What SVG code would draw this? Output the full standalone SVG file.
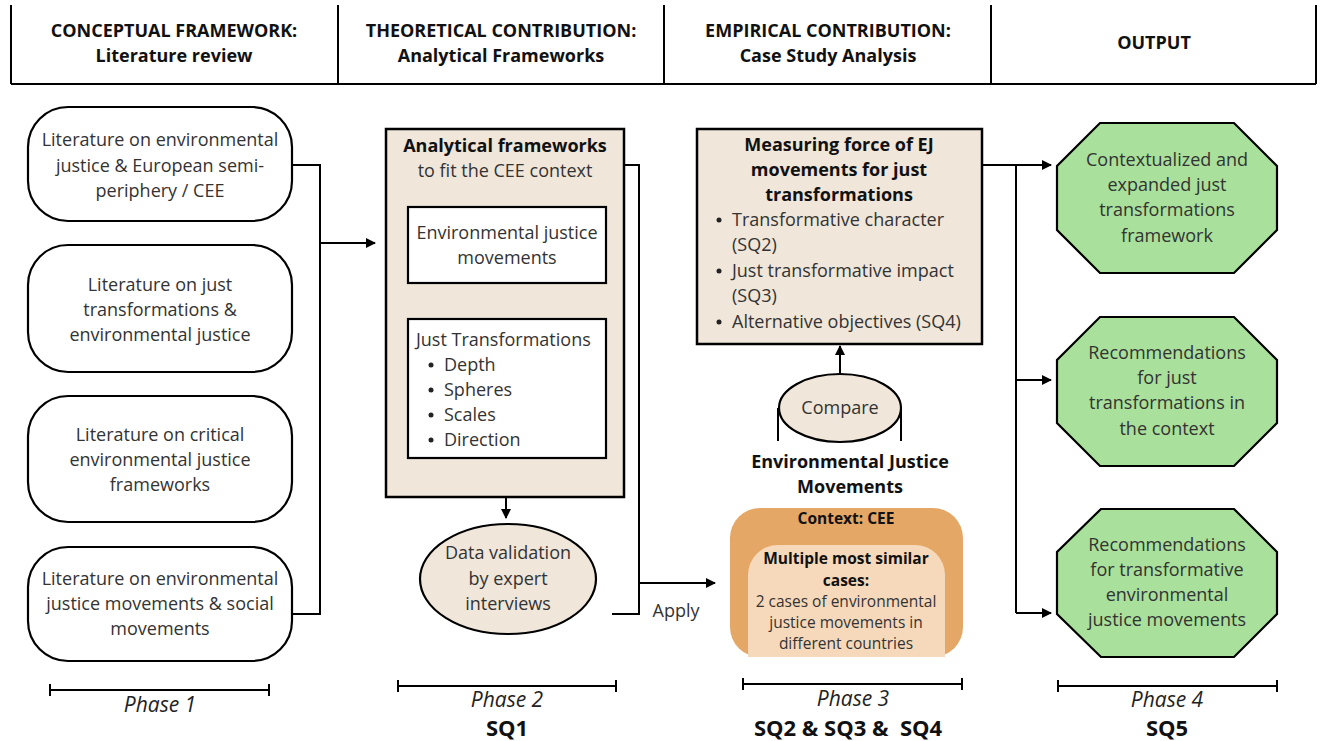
<svg xmlns="http://www.w3.org/2000/svg" width="1325" height="741" viewBox="0 0 1325 741">
<defs>
<marker id="ah" viewBox="0 0 10 10" refX="9" refY="5" markerWidth="5" markerHeight="5" orient="auto"><path d="M0,0 L10,5 L0,10 z" fill="#000"/></marker>
<style>
text{font-family:"Open Sans","Noto Sans",sans-serif;font-size:18px;fill:#333;text-anchor:middle}
.b{font-weight:bold;fill:#111}
.h{font-weight:bold;fill:#111;font-size:18px}
.i{font-style:italic;font-size:21px;fill:#222}
.sq{font-weight:bold;font-size:22px;fill:#111;white-space:pre}
.l{text-anchor:start}
.s{font-size:15.5px}
.ln{stroke:#000;stroke-width:2;fill:none}
.lit{fill:#fff;stroke:#000;stroke-width:2.2}
.bei{fill:#f0e6da;stroke:#000;stroke-width:2.5}
.oct{fill:#a9e09b;stroke:#000;stroke-width:2.2}
</style>
</defs>
<rect width="1325" height="741" fill="#fff"/>
<g id="header">
<path class="ln" d="M11,5V84M338,5V84M664,5V84M991,5V84M1316,5V84M11,84H1316"/>
<text class="h" x="174" y="37">CONCEPTUAL FRAMEWORK:</text>
<text class="h" x="174" y="62">Literature review</text>
<text class="h" x="501" y="37">THEORETICAL CONTRIBUTION:</text>
<text class="h" x="501" y="62">Analytical Frameworks</text>
<text class="h" x="828" y="37">EMPIRICAL CONTRIBUTION:</text>
<text class="h" x="828" y="62">Case Study Analysis</text>
<text class="h" x="1154" y="49">OUTPUT</text>
</g>
<g id="lit1"><rect class="lit" x="28" y="107" width="264" height="114" rx="40"/>
<text x="160" y="146">Literature on environmental</text><text x="160" y="172">justice &amp; European semi-</text><text x="160" y="197">periphery / CEE</text></g>
<g id="lit2"><rect class="lit" x="28" y="245" width="264" height="127" rx="40"/>
<text x="160" y="291">Literature on just</text><text x="160" y="316">transformations &amp;</text><text x="160" y="341">environmental justice</text></g>
<g id="lit3"><rect class="lit" x="28" y="396" width="264" height="126" rx="40"/>
<text x="160" y="441">Literature on critical</text><text x="160" y="466">environmental justice</text><text x="160" y="491">frameworks</text></g>
<g id="lit4"><rect class="lit" x="28" y="547" width="264" height="114" rx="40"/>
<text x="160" y="585">Literature on environmental</text><text x="160" y="610">justice movements &amp; social</text><text x="160" y="635">movements</text></g>
<g id="analytical">
<rect class="bei" x="386" y="129" width="238" height="368"/>
<text class="b" x="505" y="152">Analytical frameworks</text>
<text x="505" y="177">to fit the CEE context</text>
<rect x="408" y="207" width="198" height="76" fill="#fff" stroke="#000" stroke-width="2.2"/>
<text x="507" y="239">Environmental justice</text><text x="507" y="264">movements</text>
<rect x="408" y="319" width="198" height="139" fill="#fff" stroke="#000" stroke-width="2.2"/>
<text class="l" x="416" y="346">Just Transformations</text>
<g fill="#222"><circle cx="431" cy="365" r="2.5"/><circle cx="431" cy="390" r="2.5"/><circle cx="431" cy="415" r="2.5"/><circle cx="431" cy="440" r="2.5"/></g>
<text class="l" x="444" y="371">Depth</text><text class="l" x="444" y="396">Spheres</text><text class="l" x="444" y="421">Scales</text><text class="l" x="444" y="446">Direction</text>
</g>
<g id="validation"><ellipse cx="508" cy="579" rx="88" ry="55" fill="#f0e6da" stroke="#000" stroke-width="2.2"/>
<text x="508" y="559">Data validation</text><text x="508" y="585">by expert</text><text x="508" y="610">interviews</text></g>
<g id="measuring">
<rect class="bei" x="697" y="129" width="285" height="215"/>
<text class="b" x="839" y="151">Measuring force of EJ</text>
<text class="b" x="839" y="176">movements for just</text>
<text class="b" x="839" y="201">transformations</text>
<g fill="#222"><circle cx="719" cy="220" r="2.5"/><circle cx="719" cy="271" r="2.5"/><circle cx="719" cy="322" r="2.5"/></g>
<text class="l" x="732" y="226">Transformative character</text><text class="l" x="732" y="251">(SQ2)</text>
<text class="l" x="732" y="277">Just transformative impact</text><text class="l" x="732" y="302">(SQ3)</text>
<text class="l" x="732" y="328">Alternative objectives (SQ4)</text>
</g>
<g id="compare"><ellipse cx="840" cy="408" rx="61" ry="34" fill="#f0e6da" stroke="#000" stroke-width="2.2"/>
<path class="ln" d="M778,408V441M901,408V441"/>
<text x="840" y="414">Compare</text></g>
<g id="ejm"><text class="b" x="850" y="468">Environmental Justice</text><text class="b" x="850" y="493">Movements</text></g>
<g id="cases">
<rect x="730" y="508" width="233" height="149" rx="30" fill="#e4a766"/>
<path d="M748,657V575a30,30 0 0 1 30,-30H915a30,30 0 0 1 30,30V657z" fill="#f6d9bb"/>
<text class="b s" x="846" y="524">Context: CEE</text>
<text class="b s" x="846" y="564">Multiple most similar</text>
<text class="b s" x="846" y="586">cases:</text>
<text class="s" x="846" y="607">2 cases of environmental</text>
<text class="s" x="846" y="628">justice movements in</text>
<text class="s" x="846" y="649">different countries</text>
</g>
<g id="out1"><polygon class="oct" points="1100,123 1234,123 1277,166 1277,230 1234,273 1100,273 1057,230 1057,166"/>
<text x="1167" y="166">Contextualized and</text><text x="1167" y="191">expanded just</text><text x="1167" y="216">transformations</text><text x="1167" y="242">framework</text></g>
<g id="out2"><polygon class="oct" points="1100,317 1234,317 1277,360 1277,423 1234,466 1100,466 1057,423 1057,360"/>
<text x="1167" y="359">Recommendations</text><text x="1167" y="384">for just</text><text x="1167" y="409">transformations in</text><text x="1167" y="435">the context</text></g>
<g id="out3"><polygon class="oct" points="1101,509 1234,509 1277,552 1277,614 1234,657 1101,657 1057,614 1057,552"/>
<text x="1167" y="551">Recommendations</text><text x="1167" y="576">for transformative</text><text x="1167" y="601">environmental</text><text x="1167" y="626">justice movements</text></g>
<g id="connectors">
<path class="ln" d="M292,165H320V614H292"/>
<path class="ln" d="M320,243H375" marker-end="url(#ah)"/>
<path class="ln" d="M506,497V518" marker-end="url(#ah)"/>
<path class="ln" d="M624,165H639V614H612"/>
<path class="ln" d="M639,583H715" marker-end="url(#ah)"/>
<path class="ln" d="M840,374V346" marker-end="url(#ah)"/>
<path class="ln" d="M982,165H1016V613"/>
<path class="ln" d="M1016,165H1051" marker-end="url(#ah)"/>
<path class="ln" d="M1016,380H1051" marker-end="url(#ah)"/>
<path class="ln" d="M1016,613H1051" marker-end="url(#ah)"/>
<text x="676" y="617">Apply</text>
</g>
<g id="phases">
<path class="ln" d="M50,690H269M50,684V696M269,684V696"/>
<text class="i" x="160" y="712">Phase 1</text>
<path class="ln" d="M398,686H616M398,680V692M616,680V692"/>
<text class="i" x="507" y="707">Phase 2</text>
<text class="sq" x="507" y="736">SQ1</text>
<path class="ln" d="M743,684H962M743,678V690M962,678V690"/>
<text class="i" x="853" y="706">Phase 3</text>
<text class="sq" x="848" y="736" xml:space="preserve">SQ2 &amp; SQ3 &amp;  SQ4</text>
<path class="ln" d="M1058,686H1277M1058,680V692M1277,680V692"/>
<text class="i" x="1167" y="707">Phase 4</text>
<text class="sq" x="1167" y="736">SQ5</text>
</g>
</svg>
